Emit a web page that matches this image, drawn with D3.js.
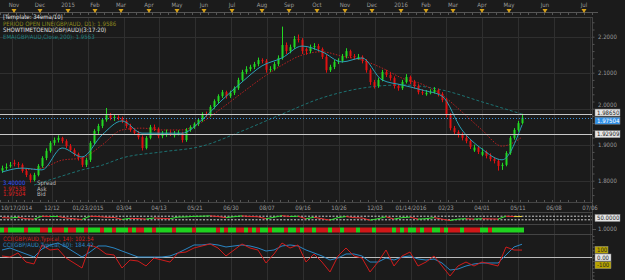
<!DOCTYPE html>
<html>
<head>
<meta charset="utf-8">
<script src="https://cdn.jsdelivr.net/npm/d3@7"></script>
<style>
  body { margin: 0; background: #1b1b1b; }
  svg { display: block; font-family: "Liberation Sans Narrow", "DejaVu Sans Condensed", sans-serif; }
</style>
</head>
<body>
<script>
// ---- data ----
// daily GBP/AUD candles, bar index 0..130
const opens = [1.828,1.835,1.840,1.850,1.846,1.844,1.827,1.816,1.802,1.816,1.841,1.863,1.883,1.905,1.913,1.919,1.910,1.896,1.885,1.874,
  1.863,1.844,1.858,1.905,1.938,1.952,1.969,1.982,1.974,1.977,1.974,1.966,1.952,1.941,1.933,1.921,1.891,1.919,1.949,1.944,
  1.924,1.928,1.933,1.926,1.930,1.933,1.913,1.941,1.949,1.958,1.969,1.985,1.982,2.005,2.021,2.035,2.046,2.035,2.044,2.057,
  2.080,2.102,2.110,2.116,2.124,2.135,2.133,2.108,2.110,2.124,2.141,2.177,2.160,2.171,2.194,2.191,2.166,2.160,2.171,2.174,
  2.166,2.144,2.107,2.116,2.130,2.133,2.146,2.160,2.146,2.140,2.144,2.133,2.107,2.074,2.063,2.080,2.102,2.094,2.085,2.063,
  2.057,2.074,2.088,2.074,2.063,2.046,2.040,2.044,2.046,2.052,2.041,2.024,1.982,1.946,1.935,1.927,1.919,1.910,1.884,1.892,
  1.872,1.880,1.869,1.860,1.855,1.841,1.844,1.877,1.919,1.941,1.960];
const highs = [1.842,1.848,1.852,1.858,1.852,1.848,1.834,1.820,1.822,1.846,1.868,1.890,1.910,1.920,1.926,1.922,1.915,1.902,1.890,1.878,
  1.866,1.864,1.910,1.943,1.958,1.974,2.002,1.988,1.984,1.982,1.978,1.970,1.958,1.946,1.938,1.926,1.924,1.955,1.956,1.948,
  1.938,1.942,1.940,1.938,1.940,1.936,1.946,1.954,1.962,1.974,1.990,1.992,2.010,2.026,2.040,2.052,2.050,2.050,2.062,2.086,
  2.108,2.118,2.122,2.130,2.142,2.140,2.138,2.118,2.130,2.148,2.228,2.184,2.178,2.202,2.206,2.196,2.170,2.178,2.182,2.180,
  2.170,2.150,2.122,2.136,2.140,2.152,2.168,2.164,2.152,2.152,2.148,2.138,2.112,2.080,2.086,2.108,2.108,2.100,2.090,2.068,
  2.080,2.096,2.092,2.080,2.068,2.054,2.052,2.054,2.060,2.056,2.046,2.030,1.988,1.952,1.940,1.934,1.926,1.916,1.900,1.896,
  1.890,1.884,1.876,1.866,1.860,1.850,1.882,1.924,1.946,1.966,1.986];
const lows = [1.822,1.830,1.836,1.840,1.836,1.822,1.810,1.795,1.798,1.812,1.836,1.857,1.878,1.898,1.906,1.904,1.890,1.880,1.868,1.856,
  1.838,1.838,1.852,1.900,1.930,1.946,1.964,1.968,1.966,1.968,1.960,1.946,1.936,1.928,1.915,1.884,1.887,1.915,1.938,1.918,
  1.918,1.922,1.924,1.920,1.926,1.906,1.908,1.936,1.944,1.952,1.964,1.976,1.978,2.000,2.014,2.030,2.028,2.030,2.038,2.052,
  2.075,2.096,2.104,2.110,2.118,2.126,2.100,2.102,2.106,2.118,2.136,2.152,2.154,2.166,2.184,2.152,2.150,2.154,2.164,2.158,
  2.138,2.100,2.102,2.110,2.124,2.128,2.140,2.140,2.136,2.136,2.126,2.100,2.066,2.056,2.058,2.076,2.088,2.078,2.056,2.050,
  2.052,2.070,2.068,2.056,2.040,2.038,2.036,2.040,2.042,2.034,2.018,1.976,1.940,1.928,1.920,1.912,1.904,1.888,1.880,1.874,
  1.868,1.862,1.854,1.848,1.828,1.830,1.840,1.872,1.914,1.936,1.956];
const closes = [1.835,1.838,1.844,1.846,1.844,1.827,1.816,1.802,1.816,1.841,1.863,1.883,1.905,1.913,1.919,1.910,1.896,1.885,1.874,1.863,
  1.844,1.858,1.905,1.938,1.952,1.969,1.982,1.974,1.977,1.974,1.966,1.952,1.941,1.933,1.921,1.891,1.919,1.949,1.944,1.924,
  1.933,1.933,1.930,1.930,1.933,1.913,1.941,1.949,1.958,1.969,1.985,1.982,2.005,2.021,2.035,2.046,2.035,2.044,2.057,2.080,
  2.102,2.110,2.116,2.124,2.135,2.133,2.108,2.110,2.124,2.141,2.177,2.160,2.171,2.194,2.191,2.160,2.160,2.171,2.174,2.166,
  2.144,2.107,2.116,2.130,2.133,2.146,2.160,2.146,2.144,2.144,2.133,2.107,2.074,2.063,2.080,2.102,2.094,2.085,2.063,2.057,
  2.074,2.088,2.074,2.063,2.046,2.044,2.044,2.046,2.052,2.041,2.024,1.982,1.946,1.935,1.927,1.919,1.910,1.894,1.892,1.880,
  1.880,1.869,1.860,1.855,1.841,1.844,1.877,1.919,1.941,1.960,1.975];

// moving averages, sampled every 5 bars
const maIdx   = [0,5,10,15,20,25,30,35,40,45,50,55,60,65,70,75,80,85,90,95,100,105,110,115,120,125,130];
const emaFast = [1.824,1.835,1.830,1.891,1.866,1.927,1.966,1.932,1.932,1.932,1.969,2.024,2.074,2.119,2.141,2.174,2.158,2.130,2.141,2.080,2.066,2.052,2.035,1.941,1.888,1.858,1.955];
const emaSlow = [null,1.830,1.835,1.857,1.863,1.899,1.941,1.946,1.941,1.941,1.963,2.002,2.044,2.085,2.121,2.149,2.158,2.146,2.135,2.113,2.085,2.068,2.038,1.991,1.941,1.896,1.921];
const ema200Idx = [8,15,20,25,30,40,50,60,70,80,90,100,110,120,130];
const ema200    = [1.788,1.813,1.830,1.843,1.863,1.880,1.896,1.938,1.985,2.030,2.057,2.066,2.052,2.019,1.985];

// horizontal levels
const levelLines = [1.98650, 1.92909];
const bidLevel = 1.97504;
const priceTicks = [1.8, 1.9, 2.0, 2.1, 2.2];

// x-axis labels (bar index position, text)
const dateIdx = [3,13,22,31,39.75,48.75,57.75,66.75,75.75,84.75,93.75,102.75,111.5,120.5,129.5,138.5,147.5];
const dateLabels = ["10/17/2014","12/12","01/23/2015","03/04","04/13","05/21","06/30","08/07","09/16","10/26","12/03","01/14/2016","02/23","04/01","05/11","06/08","07/06"];
const monthIdx = [3.5,10,17,23.75,30.25,37.25,44.25,51,58,65.5,72.25,79.25,86.25,93,100.25,106.5,113.25,120.5,127.25,136.25,146];
const monthLabels = ["Nov","Dec","2015","Feb","Mar","Apr","May","Jun","Jul","Aug","Sep","Oct","Nov","Dec","2016","Feb","Mar","Apr","May","Jun","Jul"];

// lower panels, sampled every 2 bars
const subIdx = d3.range(0, 131, 2);
const osc = [52,50,54,46,44,60,58,59,50,46,42,60,58,54,53,42,48,47,44,50,48,46,55,56,59,60,62,58,52,57,62,58,57,46,54,63,
  58,60,46,54,46,38,52,58,52,50,38,46,57,44,52,55,44,46,52,44,36,44,46,44,46,45,44,60,58,58];
const oscLevels = [60, 40];
const cci14 = [21,7,63,-63,-90,174,104,118,-7,-76,-146,174,132,49,35,-146,-35,-49,-118,-7,-35,-63,63,76,132,160,188,132,21,104,188,132,
  104,-76,49,201,132,174,-63,49,-63,-201,21,132,21,-7,-201,-63,104,-118,21,76,-118,-63,21,-118,-257,-118,-63,-118,-63,-90,-118,146,104,103];
const cci50 = [104,132,90,49,7,118,174,201,146,76,7,76,160,160,132,90,49,7,7,7,7,21,63,118,174,174,188,174,146,160,174,160,
  132,90,104,160,174,160,104,63,21,-35,-7,49,49,21,-63,-63,-7,-35,7,21,-21,-35,-21,-76,-174,-160,-118,-90,-76,-76,-76,35,146,184];
// up/down signal strip, one per bar
const signal = [1,0,1,1, 1,1,0,1,1,1, 0,0,1,0,0,0,1,0,0, 1,1,0,1,1,1,0,1,1,0,1,1,1, 0,1,0,0,1,1,0,1,
  1,1,1,0,1,1,1,1,0,1,1,1,1,1, 0,1,0,1,1,0,0,1,0,1,0, 1,1,0,1,1,1,0,1,1,0,1, 0,0,1,0,0,0,1,0,0,1,0,0,0,1,
  0,0,0,1,0,0,0,0,1,0, 1,0,1,1,0,1,0,0,1,1,0,1, 0,0,0,1,0,0,0,0, 1,1,0,1,1,1,1,1,1,1,1];

// ---- layout ----
const W = 625, H = 280;
const plotR = 592;
const main = { top: 17, bottom: 202 };
const p2 = { top: 212, bottom: 224 };
const p3 = { top: 224, bottom: 234 };
const p4 = { top: 234, bottom: 280 };
const green = "#22d822", red = "#e01212", gridC = "#2f2f2f", txtC = "#9a9a9a";

const svg = d3.select("body").append("svg").attr("width", W).attr("height", H);
svg.append("rect").attr("width", W).attr("height", H).attr("fill", "#1b1b1b");

const x = d3.scaleLinear().domain([0, 147.5]).range([0, 590]);
const y = d3.scaleLinear().domain([1.8, 2.2]).range([180.7, 36.7]);
const y2 = d3.scaleLinear().domain([0, 100]).range([227, 209]);
const yC = d3.scaleLinear().domain([-300, 300]).range([279.1, 235.9]);

function text(g, px, py, str, color, anchor) {
  return g.append("text").attr("x", px).attr("y", py).attr("fill", color)
    .attr("font-size", 6).attr("text-anchor", anchor || "start").text(str);
}
function clip(id, t, b) {
  svg.append("clipPath").attr("id", id).append("rect")
    .attr("x", 0).attr("y", t).attr("width", plotR).attr("height", b - t);
  return "url(#" + id + ")";
}

// ---- grid ----
const grid = svg.append("g").attr("stroke", gridC).attr("shape-rendering", "crispEdges");
[[main.top, main.bottom], [p2.top, p2.bottom], [p3.top, p3.bottom], [p4.top, p4.bottom]].forEach(([t, b]) => {
  grid.append("g").selectAll("line").data(dateIdx).join("line")
    .attr("x1", d => Math.round(x(d)) + 0.5).attr("x2", d => Math.round(x(d)) + 0.5)
    .attr("y1", t).attr("y2", b);
});
grid.append("g").selectAll("line").data(priceTicks).join("line")
  .attr("x1", 0).attr("x2", plotR).attr("y1", d => Math.round(y(d)) + 0.5).attr("y2", d => Math.round(y(d)) + 0.5);

// panel borders
const borders = svg.append("g").attr("stroke", "#444").attr("shape-rendering", "crispEdges");
[main.top, main.bottom, p2.top, p3.top, p4.top].forEach(v => {
  borders.append("line").attr("x1", 0).attr("x2", plotR).attr("y1", v + 0.5).attr("y2", v + 0.5);
});
borders.append("line").attr("x1", plotR + 0.5).attr("x2", plotR + 0.5).attr("y1", main.top).attr("y2", H);

// ---- top time strip ----
const strip = svg.append("g");
strip.append("line").attr("x1", 0).attr("x2", 598).attr("y1", 12.5).attr("y2", 12.5).attr("stroke", "#555");
strip.append("g").selectAll("line").data(d3.range(0, 150, 2)).join("line")
  .attr("x1", d => Math.round(x(d)) + 0.5).attr("x2", d => Math.round(x(d)) + 0.5)
  .attr("y1", 12).attr("y2", 15).attr("stroke", "#555");
strip.append("g").selectAll("path").data(monthIdx).join("path")
  .attr("d", d => `M${x(d) - 2.5},9 L${x(d) + 2.5},9 L${x(d)},13 Z`).attr("fill", "#d9a31a");
monthLabels.forEach((m, k) => text(strip, x(monthIdx[k]), 7, m, txtC, "middle"));

// ---- main panel ----
const gm = svg.append("g").attr("clip-path", clip("cm", main.top, main.bottom));

// EMA 200 (teal dashed)
gm.append("path").datum(ema200Idx.map((d, k) => [d, ema200[k]]))
  .attr("fill", "none").attr("stroke", "#1d7272").attr("stroke-width", 1).attr("stroke-dasharray", "3,2")
  .attr("d", d3.line().x(d => x(d[0] + 0.5)).y(d => y(d[1])).curve(d3.curveMonotoneX));

// slow EMA (red dotted)
gm.append("path").datum(maIdx.map((d, k) => [d, emaSlow[k]]).filter(d => d[1] != null))
  .attr("fill", "none").attr("stroke", "#b82020").attr("stroke-width", 1).attr("stroke-dasharray", "1.5,1.5")
  .attr("d", d3.line().x(d => x(d[0] + 0.5)).y(d => y(d[1])).curve(d3.curveMonotoneX));

// candles
const candles = closes.map((c, i) => ({ i, o: opens[i], h: highs[i], l: lows[i], c }));
const col = d => d.c >= d.o ? green : red;
gm.append("g").selectAll("line").data(candles).join("line")
  .attr("x1", d => x(d.i + 0.5) + 0.5).attr("x2", d => x(d.i + 0.5) + 0.5)
  .attr("y1", d => y(d.h)).attr("y2", d => y(d.l)).attr("stroke", col);
gm.append("g").selectAll("rect").data(candles).join("rect")
  .attr("x", d => x(d.i + 0.5) - 0.5).attr("width", 2)
  .attr("y", d => y(Math.max(d.o, d.c)))
  .attr("height", d => Math.max(1, Math.abs(y(d.o) - y(d.c))))
  .attr("fill", col);

// fast EMA (cyan)
gm.append("path").datum(maIdx.map((d, k) => [d, emaFast[k]]))
  .attr("fill", "none").attr("stroke", "#2a9fb5").attr("stroke-width", 1)
  .attr("d", d3.line().x(d => x(d[0] + 0.5)).y(d => y(d[1])).curve(d3.curveMonotoneX));

// horizontal levels
gm.append("g").selectAll("line").data(levelLines).join("line")
  .attr("x1", 0).attr("x2", plotR).attr("y1", d => Math.round(y(d)) + 0.5).attr("y2", d => Math.round(y(d)) + 0.5)
  .attr("stroke", "#c8c8c8").attr("stroke-width", 1.2);
gm.append("line").attr("x1", 0).attr("x2", plotR)
  .attr("y1", Math.round(y(bidLevel)) + 0.5).attr("y2", Math.round(y(bidLevel)) + 0.5)
  .attr("stroke", "#3a8ed6").attr("stroke-dasharray", "1,2");

// bottom minor ticks
svg.append("g").selectAll("line").data(d3.range(0, 149, 2)).join("line")
  .attr("x1", d => Math.round(x(d)) + 0.5).attr("x2", d => Math.round(x(d)) + 0.5)
  .attr("y1", main.bottom - 2).attr("y2", main.bottom).attr("stroke", "#555");

// legends main
const lg = svg.append("g");
text(lg, 3, 19, "[Template: 34ema/10]", "#e0e0e0");
text(lg, 3, 25.5, "PERIOD OPEN LINE(GBP/AUD, D1): 1.9586", "#8c8a1e");
text(lg, 3, 32, "SHOWTIMETOEND(GBP/AUD)(3:17:20)", "#e0e0e0");
text(lg, 3, 38.5, "EMA(GBP/AUD,Close,200): 1.9563", "#1f7f7f");
text(lg, 3, 185, "3.40000", "#3050ff");
text(lg, 3, 190.5, "1.97538", "#e02020");
text(lg, 3, 196, "1.97504", "#e02020");
text(lg, 37, 185, "Spread", "#bbb");
text(lg, 37, 190.5, "Ask", "#bbb");
text(lg, 37, 196, "Bid", "#bbb");

// right price axis
const ax = svg.append("g").attr("transform", `translate(${plotR + 0.5},0)`)
  .call(d3.axisRight(y).tickValues(d3.range(1.76, 2.24, 0.02)).tickSize(2).tickFormat(""));
ax.select(".domain").remove();
ax.selectAll("line").attr("stroke", "#555");
priceTicks.forEach(p => text(svg, 598, y(p) + (p === 2.0 ? -2.2 : 2), d3.format(".4f")(p), txtC));

function box(py, str, bg, fg) {
  const g = svg.append("g");
  g.append("rect").attr("x", 595).attr("y", py - 3.5).attr("width", str.length * 3 + 4).attr("height", 7)
    .attr("fill", bg).attr("stroke", "#888").attr("stroke-width", 0.5);
  text(g, 597, py + 2, str, fg);
}
box(y(levelLines[0]) - 1, "1.98650", "#e6e6e6", "#222");
box(y(bidLevel) + 3, "1.97504", "#2f8fe8", "#fff");
box(y(levelLines[1]), "1.92909", "#e6e6e6", "#222");

// date labels (first one kept inside the left edge)
dateLabels.forEach((s, k) => {
  const t = text(svg, x(dateIdx[k]), 210, s, txtC, "middle");
  const w = t.node().getComputedTextLength();
  if (x(dateIdx[k]) - w / 2 < 1) t.attr("x", 1).attr("text-anchor", "start");
});

// ---- panel 2: oscillator ----
const g2 = svg.append("g").attr("clip-path", clip("c2", p2.top, p2.bottom));
g2.append("g").selectAll("line").data(oscLevels).join("line")
  .attr("x1", 0).attr("x2", plotR).attr("y1", d => y2(d)).attr("y2", d => y2(d))
  .attr("stroke", "#cfcfcf").attr("stroke-dasharray", "2,1.5");
const segs = osc.slice(1).map((v, k) => ({ a: k, b: k + 1 }));
g2.append("g").selectAll("line").data(segs).join("line")
  .attr("x1", d => x(subIdx[d.a] + 0.5)).attr("x2", d => x(subIdx[d.b] + 0.5))
  .attr("y1", d => y2(osc[d.a])).attr("y2", d => y2(osc[d.b]))
  .attr("stroke", d => osc[d.b] > osc[d.a] ? "#33e033" : osc[d.b] < osc[d.a] ? "#e83030" : "#e8d040")
  .attr("stroke-width", 1);
box(y2(50), "50.0000", "#e6e6e6", "#222");

// ---- panel 3: signal strip ----
svg.append("g").selectAll("rect").data(signal).join("rect")
  .attr("x", (d, i) => x(i)).attr("width", x(1) - x(0))
  .attr("y", p3.top + 3.5).attr("height", 5)
  .attr("fill", d => d ? "#1fd21f" : "#d01818");
text(svg, 598, p3.top + 7, "1.0000", txtC);
svg.append("line").attr("x1", plotR).attr("x2", plotR + 4).attr("y1", p3.top + 5.5).attr("y2", p3.top + 5.5).attr("stroke", "#555");

// ---- panel 4: CCI ----
const g4 = svg.append("g").attr("clip-path", clip("c4", p4.top, p4.bottom));
g4.append("line").attr("x1", 0).attr("x2", plotR).attr("y1", yC(0)).attr("y2", yC(0))
  .attr("stroke", "#bdbdbd").attr("stroke-width", 1);
g4.append("path").datum(cci50)
  .attr("fill", "none").attr("stroke", "#2a86c4").attr("stroke-width", 1)
  .attr("d", d3.line().x((d, k) => x(subIdx[k] + 0.5)).y(d => yC(d)));
g4.append("path").datum(cci14)
  .attr("fill", "none").attr("stroke", "#d01c1c").attr("stroke-width", 1)
  .attr("d", d3.line().x((d, k) => x(subIdx[k] + 0.5)).y(d => yC(d)));
text(svg, 3, 241, "CCI(GBP/AUD,Typical, 14): 102.54", "#d22020");
text(svg, 3, 247, "CCI(GBP/AUD,Typical, 50): 184.42", "#2a86c4");

const axC = svg.append("g").attr("transform", `translate(${plotR + 0.5},0)`)
  .call(d3.axisRight(yC).tickValues(d3.range(-300, 301, 50)).tickSize(2).tickFormat(""));
axC.select(".domain").remove();
axC.selectAll("line").attr("stroke", "#555");
box(yC(100) - 0.5, "100", "#b8a400", "#222");
box(yC(0), "0.00", "#e6e6e6", "#222");
box(yC(-100) + 0.5, "-100", "#b8a400", "#222");
</script>
</body>
</html>
